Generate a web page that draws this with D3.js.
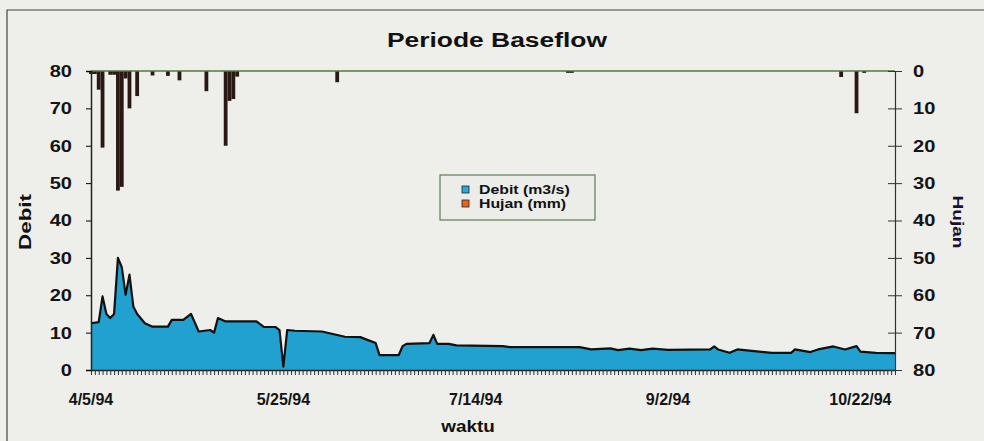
<!DOCTYPE html>
<html>
<head>
<meta charset="utf-8">
<script src="https://cdn.jsdelivr.net/npm/d3@7"></script>
<style>
  body { margin: 0; background: #eeeeea; }
  svg { display: block; font-family: "Liberation Sans", Arial, sans-serif; }
</style>
</head>
<body>
<svg id="chart" width="984" height="441"></svg>
<script>
// debit (m3/s)
const debitDates = ["4/5/94","4/7/94","4/8/94","4/9/94","4/10/94","4/11/94","4/12/94","4/13/94","4/14/94","4/15/94",
  "4/16/94","4/17/94","4/19/94","4/21/94","4/25/94","4/26/94","4/29/94","5/1/94","5/3/94","5/6/94",
  "5/7/94","5/8/94","5/10/94","5/18/94","5/20/94","5/23/94","5/24/94","5/25/94","5/26/94","5/28/94",
  "6/4/94","6/10/94","6/14/94","6/16/94","6/18/94","6/19/94","6/24/94","6/25/94","6/26/94","7/2/94",
  "7/3/94","7/4/94","7/7/94","7/9/94","7/21/94","7/23/94","8/10/94","8/13/94","8/18/94","8/20/94",
  "8/23/94","8/26/94","8/29/94","9/2/94","9/13/94","9/14/94","9/15/94","9/18/94","9/20/94","9/29/94",
  "10/4/94","10/5/94","10/9/94","10/11/94","10/15/94","10/18/94","10/21/94","10/22/94","10/26/94","10/30/94","10/31/94"];
const debitValues = [12.5,12.8,19.7,15,13.9,15,30,27.5,20.1,25.5,
  17,15,12.5,11.6,11.6,13.4,13.4,15,10.3,10.7,
  10,13.9,13,13,11.5,11.5,10.7,0.9,10.7,10.5,
  10.3,8.9,8.8,8.0,7.2,4.0,4.0,6.4,7.0,7.2,
  9.4,7.0,7.0,6.6,6.4,6.1,6.1,5.5,5.8,5.3,
  5.7,5.3,5.7,5.4,5.5,6.3,5.5,4.6,5.5,4.6,
  4.6,5.5,4.8,5.5,6.3,5.5,6.4,4.9,4.6,4.5,4.5];

// hujan (mm)
const hujanDates = ["4/5/94","4/6/94","4/7/94","4/8/94","4/10/94","4/11/94","4/12/94","4/13/94","4/14/94","4/15/94",
  "4/17/94","4/21/94","4/25/94","4/28/94","5/5/94","5/10/94","5/11/94","5/12/94","5/13/94","6/8/94",
  "8/7/94","8/8/94","10/17/94","10/21/94","10/23/94"];
const hujanValues = [0.8,0.8,5,20.5,1,1,32,31,2,10,
  6.7,1.2,1.3,2.5,5.4,20,8,7.5,1.5,3,
  0.5,0.5,1.6,11.3,0.5];

const xLabels = ["4/5/94","5/25/94","7/14/94","9/2/94","10/22/94"];
const debitTicks = [0,10,20,30,40,50,60,70,80];
const hujanTicks = [0,10,20,30,40,50,60,70,80];

const parse = d3.utcParse("%m/%d/%y");
const svg = d3.select("#chart");

const plotLeft = 91, plotRight = 895, plotTop = 71, plotBottom = 370;
const start = parse("4/5/94"), end = parse("10/31/94");

const x = d3.scaleUtc().domain([start, end]).range([plotLeft, plotRight]);
const yDebit = d3.scaleLinear().domain([0, 80]).range([plotBottom, plotTop]);
const yHujan = d3.scaleLinear().domain([0, 80]).range([plotTop, plotBottom]);

// stretch text a bit wider, the scan is wide
function stretch(sel, k) {
  sel.each(function () {
    const w = this.getComputedTextLength();
    this.setAttribute("textLength", w * k);
    this.setAttribute("lengthAdjust", "spacingAndGlyphs");
  });
}

// outer frame
svg.append("path")
  .attr("d", "M7,441V10H984")
  .attr("fill", "none")
  .attr("stroke", "#4a4040")
  .attr("stroke-width", 1.2);

const debit = debitDates.map((d, i) => ({ date: parse(d), value: debitValues[i] }));
const hujan = hujanDates.map((d, i) => ({ date: parse(d), value: hujanValues[i] }));

svg.append("path")
  .datum(debit)
  .attr("fill", "#21a1d0")
  .attr("d", d3.area().x(d => x(d.date)).y0(yDebit(0)).y1(d => yDebit(d.value)));

svg.append("path")
  .datum(debit)
  .attr("fill", "none")
  .attr("stroke", "#111")
  .attr("stroke-width", 2.2)
  .attr("stroke-linejoin", "round")
  .attr("d", d3.line().x(d => x(d.date)).y(d => yDebit(d.value)));

// rain bars hanging from the top
svg.selectAll(".hujan")
  .data(hujan)
  .enter()
  .append("rect")
  .attr("class", "hujan")
  .attr("x", d => x(d.date) - 1.9)
  .attr("y", yHujan(0))
  .attr("width", 3.8)
  .attr("height", d => yHujan(d.value) - yHujan(0))
  .attr("fill", "#2a1814");

// top line
svg.append("line")
  .attr("x1", plotLeft).attr("x2", plotRight)
  .attr("y1", plotTop).attr("y2", plotTop)
  .attr("stroke", "#55773a")
  .attr("stroke-width", 1.5);

// x axis with daily ticks
const days = d3.utcDay.range(start, d3.utcDay.offset(end, 1));
const xAxis = svg.append("g")
  .attr("transform", `translate(0,${plotBottom})`)
  .call(d3.axisBottom(x).tickValues(days).tickFormat("").tickSizeInner(5).tickSizeOuter(0));
xAxis.select(".domain").attr("stroke", "#222").attr("stroke-width", 1.5);
xAxis.selectAll(".tick line").attr("stroke", "#333");

svg.selectAll(".xlabel")
  .data(xLabels)
  .enter()
  .append("text")
  .attr("class", "xlabel")
  .attr("x", d => x(parse(d)))
  .attr("y", 405)
  .attr("text-anchor", "middle")
  .attr("font-size", 16)
  .attr("font-weight", "bold")
  .attr("fill", "#141414")
  .text(d => d);

// left axis
const yAxisL = svg.append("g")
  .attr("transform", `translate(${plotLeft},0)`)
  .call(d3.axisLeft(yDebit).tickValues(debitTicks).tickSize(5).tickPadding(14));
yAxisL.select(".domain").attr("stroke", "#222").attr("stroke-width", 1.5);
yAxisL.selectAll("text").attr("font-size", 17).attr("font-weight", "bold")
  .attr("font-family", "Liberation Sans, Arial, sans-serif").attr("fill", "#141414");
stretch(yAxisL.selectAll("text"), 1.18);

// right axis, ticks cross the line
const yAxisR = svg.append("g")
  .attr("transform", `translate(${plotRight},0)`)
  .call(d3.axisRight(yHujan).tickValues(hujanTicks).tickSize(7).tickPadding(11));
yAxisR.select(".domain").attr("stroke", "#333").attr("stroke-width", 1.2);
yAxisR.selectAll(".tick line").attr("x1", -7).attr("stroke", "#333");
yAxisR.selectAll("text").attr("font-size", 17).attr("font-weight", "bold")
  .attr("font-family", "Liberation Sans, Arial, sans-serif").attr("fill", "#141414");
stretch(yAxisR.selectAll("text"), 1.18);

// title and axis titles
const title = svg.append("text")
  .attr("x", 497).attr("y", 47)
  .attr("text-anchor", "middle")
  .attr("font-size", 20).attr("font-weight", "bold").attr("fill", "#111")
  .text("Periode Baseflow");
stretch(title, 1.32);

const debitTitle = svg.append("text")
  .attr("transform", "translate(31,222) rotate(-90)")
  .attr("text-anchor", "middle")
  .attr("font-size", 16).attr("font-weight", "bold").attr("fill", "#111")
  .text("Debit");
stretch(debitTitle, 1.4);

const hujanTitle = svg.append("text")
  .attr("transform", "translate(953,222) rotate(90)")
  .attr("text-anchor", "middle")
  .attr("font-size", 15).attr("font-weight", "bold").attr("fill", "#1a1030")
  .text("Hujan");
stretch(hujanTitle, 1.27);

const waktu = svg.append("text")
  .attr("x", 468).attr("y", 432)
  .attr("text-anchor", "middle")
  .attr("font-size", 16).attr("font-weight", "bold").attr("fill", "#111")
  .text("waktu");
stretch(waktu, 1.18);

// legend
const legend = svg.append("g");
legend.append("rect")
  .attr("x", 440).attr("y", 175).attr("width", 155).attr("height", 45)
  .attr("fill", "#ecece8").attr("stroke", "#5f7f55").attr("stroke-width", 1.2);
const items = [["Debit (m3/s)", "#2aa8dc"], ["Hujan (mm)", "#e8641e"]];
items.forEach((it, i) => {
  legend.append("rect")
    .attr("x", 462).attr("y", 186 + i * 14).attr("width", 7).attr("height", 7)
    .attr("fill", it[1]).attr("stroke", "#222").attr("stroke-width", 0.8);
  const t = legend.append("text")
    .attr("x", 479).attr("y", 194 + i * 14)
    .attr("font-size", 12).attr("font-weight", "bold").attr("fill", "#111")
    .text(it[0]);
  stretch(t, 1.32);
});
</script>
</body>
</html>
